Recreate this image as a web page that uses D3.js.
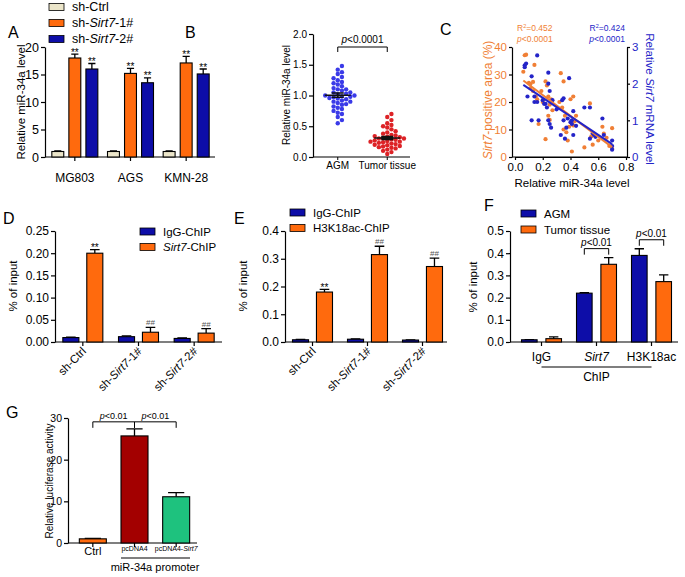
<!DOCTYPE html>
<html>
<head>
<meta charset="utf-8">
<script src="https://cdn.jsdelivr.net/npm/d3@7"></script>
<style>
body{margin:0;background:#fff}
svg{font-family:"Liberation Sans",Arial,sans-serif}
</style>
</head>
<body>
<script>
// ---- data ----
const aGroups = ['MG803','AGS','KMN-28']
const aSeries = ['sh-Ctrl','sh-Sirt7-1#','sh-Sirt7-2#']
const aValues = [[1.0,18.0,16.0],[1.0,15.2,13.5],[1.0,17.1,15.1]]
const aErrors = [[0.1,0.7,1.0],[0.1,0.9,0.9],[0.1,1.2,0.9]]
const aMarks = [['','**','**'],['','**','**'],['','**','**']]

const bGroups = ['AGM','Tumor tissue']
const bAGM = [1.48,1.42,1.38,1.35,1.3,1.28,1.25,1.22,1.2,1.18,1.15,1.12,1.1,1.1,1.08,1.05,1.05,1.03,1.02,1.0,1.0,0.99,0.98,0.97,0.96,0.95,0.94,0.92,0.9,0.9,0.88,0.86,0.85,0.82,0.8,0.78,0.75,0.72,0.7,0.65,0.6,0.55]
const bTumor = [0.7,0.65,0.6,0.55,0.52,0.5,0.48,0.45,0.42,0.4,0.38,0.36,0.35,0.34,0.33,0.32,0.31,0.3,0.3,0.29,0.28,0.27,0.26,0.25,0.25,0.24,0.23,0.22,0.21,0.2,0.19,0.18,0.17,0.16,0.15,0.14,0.12,0.1,0.08,0.05]

const cOrangeX = [0.07,0.08,0.06,0.1,0.11,0.13,0.14,0.11,0.13,0.15,0.16,0.17,0.19,0.2,0.22,0.23,0.24,0.25,0.24,0.25,0.22,0.26,0.27,0.33,0.35,0.32,0.34,0.36,0.35,0.37,0.38,0.4,0.42,0.41,0.39,0.42,0.44,0.43,0.5,0.54,0.55,0.56,0.63,0.64,0.6,0.66,0.7,0.68,0.7]
const cOrangeY = [37,37.2,31,27,26.5,27.3,33.5,25,24,22,21,12,24,20,27.5,26,22,19,15,13.5,6.5,21,17,30.5,27.5,20,18,15,10,9,6,21,22,2,11,11.5,15,13,3.5,19.5,7.5,4.5,11,8.5,6,7,10.5,4,3]
const cBlueX = [0.07,0.07,0.08,0.16,0.12,0.09,0.12,0.14,0.14,0.16,0.17,0.2,0.21,0.22,0.23,0.24,0.24,0.25,0.24,0.25,0.26,0.27,0.3,0.33,0.34,0.35,0.35,0.36,0.37,0.38,0.39,0.4,0.41,0.41,0.42,0.42,0.44,0.5,0.54,0.54,0.57,0.58,0.63,0.64,0.7,0.7,0.7,0.56]
const cBlueY = [2.5,2.45,2.55,2.77,2.2,1.65,1.0,1.65,1.5,1.5,1.0,1.55,1.45,1.45,1.35,2.3,2.0,1.8,1.0,0.9,0.8,1.55,1.3,0.6,1.55,1.6,1.0,0.5,0.8,1.05,2.15,0.95,1.0,0.9,1.25,0.6,0.85,1.35,1.35,0.5,0.6,0.55,1.05,0.6,0.3,0.2,0.45,0.65]

const dGroups = ['sh-Ctrl','sh-Sirt7-1#','sh-Sirt7-2#']
const dSeries = ['IgG-ChIP','Sirt7-ChIP']
const dValues = [[0.010,0.200],[0.012,0.022],[0.008,0.020]]
const dErrors = [[0.001,0.008],[0.002,0.011],[0.001,0.010]]
const dMarks = [['','**'],['','##'],['','##']]

const eGroups = ['sh-Ctrl','sh-Sirt7-1#','sh-Sirt7-2#']
const eSeries = ['IgG-ChIP','H3K18ac-ChIP']
const eValues = [[0.008,0.180],[0.010,0.315],[0.007,0.272]]
const eErrors = [[0.001,0.010],[0.001,0.030],[0.001,0.030]]
const eMarks = [['','**'],['','##'],['','##']]

const fGroups = ['IgG','Sirt7','H3K18ac']
const fSeries = ['AGM','Tumor tissue']
const fValues = [[0.010,0.015],[0.220,0.350],[0.390,0.272]]
const fErrors = [[0.001,0.008],[0.002,0.030],[0.030,0.030]]
const fCompare = [['Sirt7','p<0.01'],['H3K18ac','p<0.01']]

const gGroups = ['Ctrl','pcDNA4','pcDNA4-Sirt7']
const gValues = [[1.0],[25.7],[11.1]]
const gErrors = [[0.1],[1.7],[1.0]]
const gCompare = [['Ctrl','pcDNA4','p<0.01'],['pcDNA4','pcDNA4-Sirt7','p<0.01']]

// ---- setup ----
const svg = d3.select('body').append('svg').attr('width',685).attr('height',577)
const ORANGE = '#ff6a0d', BLUE = '#0d0da8', BEIGE = '#ebe5c9'

// italic for gene name and p
function rich(t, str){
  str.split(/(Sirt7|p(?=<))/).forEach(s => {
    if(!s) return
    const sp = t.append('tspan').text(s)
    if(s==='Sirt7' || s==='p') sp.attr('font-style','italic')
  })
  return t
}
function txt(x, y, str, size, opt = {}){
  const t = svg.append('text').attr('x',x).attr('y',y).attr('font-size',size)
    .attr('text-anchor',opt.anchor||'start').attr('fill',opt.fill||'#000')
  if(opt.rot) t.attr('transform',`rotate(${opt.rot},${x},${y})`)
  return rich(t, str)
}
function yAxis(scale, x, ticks, fmt, size, color){
  const ax = svg.append('g').attr('transform',`translate(${x},0)`)
    .call(d3.axisLeft(scale).tickValues(ticks).tickFormat(d3.format(fmt)).tickSize(4).tickSizeOuter(0).tickPadding(2))
  ax.attr('font-size',size).attr('font-family',null)
  ax.selectAll('path,line').attr('stroke','#000').attr('stroke-width',1.2)
  ax.selectAll('text').attr('fill',color||'#000')
  return ax
}
function legend(x, y, items, colors, dy, size){
  items.forEach((s,i) => {
    svg.append('rect').attr('x',x).attr('y',y+i*dy-6).attr('width',15).attr('height',7)
      .attr('fill',colors[i]).attr('stroke','#000').attr('stroke-width',0.8)
    txt(x+23, y+i*dy+1.5, s, size)
  })
}

function barPanel(o){
  const y = d3.scaleLinear().domain([0,o.max]).range([o.bottom,o.top])
  const x = d3.scalePoint().domain(o.groups).range(o.range).padding(0.5)
  const inner = d3.scaleBand().domain(o.series).range([-o.gw/2,o.gw/2]).paddingInner(o.pad)
  yAxis(y, o.axisX, d3.range(0,o.max+o.step/2,o.step), o.fmt, o.fs)
  svg.append('line').attr('x1',o.axisX).attr('x2',o.axisEnd).attr('y1',o.bottom).attr('y2',o.bottom)
    .attr('stroke','#000').attr('stroke-width',1.2)
  svg.selectAll(null).data(o.groups).enter().append('line')
    .attr('x1',d=>x(d)).attr('x2',d=>x(d)).attr('y1',o.bottom).attr('y2',o.bottom+4)
    .attr('stroke','#000').attr('stroke-width',1.2)
  const cells = o.groups.flatMap((g,i) => o.series.map((s,j) => ({
    g, s, v:o.values[i][j], e:o.errors[i][j], m:o.marks?o.marks[i][j]:'', c:o.color(i,j)})))
  const bx = d => x(d.g)+inner(d.s)
  const bw = inner.bandwidth()
  // error bars (upward)
  svg.selectAll(null).data(cells).enter().append('path')
    .attr('d',d => `M${bx(d)+bw/2},${y(d.v)}V${y(d.v+d.e)}M${bx(d)+bw*0.2},${y(d.v+d.e)}H${bx(d)+bw*0.8}`)
    .attr('stroke','#000').attr('stroke-width',1.3).attr('fill','none')
  svg.selectAll(null).data(cells).enter().append('rect')
    .attr('x',bx).attr('width',bw).attr('y',d=>y(d.v)).attr('height',d=>o.bottom-y(d.v))
    .attr('fill',d=>d.c).attr('stroke','#000').attr('stroke-width',1.1)
  svg.selectAll(null).data(cells.filter(d=>d.m)).enter().append('text')
    .attr('x',d=>bx(d)+bw/2).attr('y',d=>y(d.v+d.e)+(d.m==='##'?-2:1.5))
    .attr('text-anchor','middle').attr('font-size',d=>d.m==='##'?8:10)
    .attr('fill',d=>d.m==='##'?'#555':'#000').text(d=>d.m)
  return {x, y, inner, bw}
}

// ---- panel A ----
{
  const p = barPanel({groups:aGroups, series:aSeries, values:aValues, errors:aErrors, marks:aMarks,
    color:(i,j)=>[BEIGE,ORANGE,BLUE][j], max:20, step:5, fmt:'d', fs:12.5,
    top:47, bottom:157, axisX:45, axisEnd:215, range:[47,214], gw:46, pad:0.3})
  aGroups.forEach(g => txt(p.x(g), 182, g, 12, {anchor:'middle'}))
  txt(25, 102, 'Relative miR-34a level', 11.5, {anchor:'middle', rot:-90})
  legend(49, 9.5, aSeries, [BEIGE,ORANGE,BLUE], 16, 12.5)
  txt(8, 38, 'A', 16)
}

// ---- panel B ----
{
  const y = d3.scaleLinear().domain([0,2]).range([157,34])
  const x = d3.scalePoint().domain(bGroups).range([313,412]).padding(0.5)
  yAxis(y, 313, [0,0.5,1,1.5,2], '.1f', 10)
  svg.append('line').attr('x1',313).attr('x2',410).attr('y1',157).attr('y2',157).attr('stroke','#000').attr('stroke-width',1.2)
  bGroups.forEach(g => {
    svg.append('line').attr('x1',x(g)).attr('x2',x(g)).attr('y1',157).attr('y2',160).attr('stroke','#000')
    txt(x(g), 169, g, 10, {anchor:'middle'})
  })
  const r = 2.2
  function swarm(vals, cx){
    const placed = []
    vals.slice().sort((a,b)=>a-b).forEach(v => {
      const py = y(v)
      for(let k=0;k<60;k++){
        const off = k===0 ? 0 : (k%2 ? 1 : -1)*Math.ceil(k/2)*r*1.9
        if(placed.every(p => (p.x-cx-off)**2 + (p.y-py)**2 >= (2*r*0.95)**2)){ placed.push({x:cx+off, y:py}); break }
      }
    })
    return placed
  }
  ;[[bAGM,'#3a3ae8'],[bTumor,'#dd2226']].forEach(([vals,col],i) => {
    const cx = x(bGroups[i])
    svg.selectAll(null).data(swarm(vals,cx)).enter().append('circle')
      .attr('cx',d=>d.x).attr('cy',d=>d.y).attr('r',r).attr('fill',col)
    const m = d3.mean(vals), se = d3.deviation(vals)/Math.sqrt(vals.length)
    svg.append('path').attr('d',`M${cx-13},${y(m)}H${cx+13}M${cx},${y(m-se)}V${y(m+se)}M${cx-6},${y(m-se)}H${cx+6}M${cx-6},${y(m+se)}H${cx+6}`)
      .attr('stroke','#111').attr('stroke-width',1.5).attr('fill','none')
  })
  svg.append('path').attr('d',`M${x(bGroups[0])},52V47H${x(bGroups[1])}V52`).attr('stroke','#000').attr('fill','none')
  txt((x(bGroups[0])+x(bGroups[1]))/2, 43, 'p<0.0001', 10, {anchor:'middle'})
  txt(290, 95, 'Relative miR-34a level', 10, {anchor:'middle', rot:-90})
  txt(185, 38, 'B', 16)
}

// ---- panel C ----
{
  const CO = '#f07f35', CB = '#2424c8'
  const x = d3.scaleLinear().domain([0,0.8]).range([515,626])
  const yl = d3.scaleLinear().domain([0,40]).range([157,47])
  const yr = d3.scaleLinear().domain([0,3]).range([157,47])
  const la = yAxis(yl, 512, [0,10,20,30,40], 'd', 11.5, CO)
  la.call(g => g.selectAll('.tick line').attr('x2',-3)).call(g => g.selectAll('.tick text').attr('x',-5))
  const ra = svg.append('g').attr('transform','translate(627,0)')
    .call(d3.axisRight(yr).ticks(3).tickFormat(d3.format('d')).tickSize(3).tickSizeOuter(0).tickPadding(2))
  ra.attr('font-size',11.5).attr('font-family',null)
  ra.selectAll('path,line').attr('stroke','#000').attr('stroke-width',1.2)
  ra.selectAll('text').attr('fill',CB)
  const xa = svg.append('g').attr('transform','translate(0,157)')
    .call(d3.axisBottom(x).tickValues([0,0.2,0.4,0.6,0.8]).tickFormat(d3.format('.1f')).tickSize(3).tickSizeOuter(0).tickPadding(3))
  xa.attr('font-size',11.5).attr('font-family',null)
  xa.selectAll('path,line').attr('stroke','#000').attr('stroke-width',1.2)
  svg.append('line').attr('x1',512).attr('x2',627).attr('y1',157).attr('y2',157).attr('stroke','#000').attr('stroke-width',1.2)
  svg.selectAll(null).data(cOrangeX).enter().append('circle')
    .attr('cx',d=>x(d)).attr('cy',(d,i)=>yl(cOrangeY[i])).attr('r',2.1).attr('fill',CO)
  svg.selectAll(null).data(cBlueX).enter().append('circle')
    .attr('cx',d=>x(d)).attr('cy',(d,i)=>yr(cBlueY[i])).attr('r',2.1).attr('fill',CB)
  function fit(xs, ys){
    const mx = d3.mean(xs), my = d3.mean(ys)
    const b = d3.sum(xs,(v,i)=>(v-mx)*(ys[i]-my))/d3.sum(xs,v=>(v-mx)**2)
    return v => my + b*(v-mx)
  }
  const fo = fit(cOrangeX,cOrangeY), fb = fit(cBlueX,cBlueY)
  const [xmin,xmax] = d3.extent(cOrangeX.concat(cBlueX))
  svg.append('line').attr('x1',x(xmin)).attr('x2',x(xmax)).attr('y1',yl(fo(xmin))).attr('y2',yl(fo(xmax))).attr('stroke',CO).attr('stroke-width',2)
  svg.append('line').attr('x1',x(xmin)).attr('x2',x(xmax)).attr('y1',yr(fb(xmin))).attr('y2',yr(fb(xmax))).attr('stroke',CB).attr('stroke-width',2)
  const r1 = txt(517, 31, 'R', 8.5, {fill:CO}); r1.append('tspan').attr('font-size',5.5).attr('dy',-3.5).text('2'); r1.append('tspan').attr('dy',3.5).text('=0.452')
  txt(517, 42, 'p<0.0001', 8.5, {fill:CO})
  const r2 = txt(625, 31, 'R', 8.5, {fill:CB, anchor:'end'}); r2.append('tspan').attr('font-size',5.5).attr('dy',-3.5).text('2'); r2.append('tspan').attr('dy',3.5).text('=0.424')
  txt(625, 42, 'p<0.0001', 8.5, {fill:CB, anchor:'end'})
  txt(492, 100, 'Sirt7-positive area (%)', 12, {anchor:'middle', rot:-90, fill:CO})
  txt(646, 99, 'Relative Sirt7 mRNA level', 11.5, {anchor:'middle', rot:90, fill:CB})
  txt(572, 187, 'Relative miR-34a level', 11.5, {anchor:'middle'})
  txt(440, 35, 'C', 16)
}

// ---- panel D ----
function rotLabels(x, groups, bottom){
  svg.selectAll(null).data(groups).enter().append('text')
    .attr('transform',d=>`translate(${x(d)+4},${bottom+10}) rotate(-45)`)
    .attr('text-anchor','end').attr('font-size',11.5)
    .each(function(d){ rich(d3.select(this), d) })
}
{
  const p = barPanel({groups:dGroups, series:dSeries, values:dValues, errors:dErrors, marks:dMarks,
    color:(i,j)=>[BLUE,ORANGE][j], max:0.25, step:0.05, fmt:'.2f', fs:12,
    top:231, bottom:342, axisX:55, axisEnd:222, range:[55,222], gw:40, pad:0.33})
  rotLabels(p.x, dGroups, 342)
  txt(17, 286, '% of input', 11.5, {anchor:'middle', rot:-90})
  legend(140, 234, dSeries, [BLUE,ORANGE], 15.5, 11.5)
  txt(3, 224, 'D', 16)
}

// ---- panel E ----
{
  const p = barPanel({groups:eGroups, series:eSeries, values:eValues, errors:eErrors, marks:eMarks,
    color:(i,j)=>[BLUE,ORANGE][j], max:0.4, step:0.1, fmt:'.1f', fs:12,
    top:231, bottom:342, axisX:285, axisEnd:447, range:[285,450], gw:40, pad:0.33})
  rotLabels(p.x, eGroups, 342)
  txt(247, 286, '% of input', 11.5, {anchor:'middle', rot:-90})
  legend(290, 215, eSeries, [BLUE,ORANGE], 15.5, 11.5)
  txt(234, 224, 'E', 16)
}

// ---- panel F ----
{
  const p = barPanel({groups:fGroups, series:fSeries, values:fValues, errors:fErrors,
    color:(i,j)=>[BLUE,ORANGE][j], max:0.5, step:0.1, fmt:'.1f', fs:12,
    top:231, bottom:342, axisX:510, axisEnd:678, range:[514,679], gw:40, pad:0.36})
  fGroups.forEach(g => txt(p.x(g), 361, g, 12, {anchor:'middle'}))
  svg.append('line').attr('x1',p.x(fGroups[0])).attr('x2',p.x(fGroups[2])).attr('y1',367).attr('y2',367).attr('stroke','#000').attr('stroke-width',1.2)
  txt(p.x(fGroups[1]), 381, 'ChIP', 12, {anchor:'middle'})
  fCompare.forEach(([g,lab]) => {
    const i = fGroups.indexOf(g)
    const top = d3.max(fValues[i].map((v,j)=>v+fErrors[i][j]))
    const by = p.y(top)-9
    const x1 = p.x(g)+p.inner(fSeries[0])+p.bw/2, x2 = p.x(g)+p.inner(fSeries[1])+p.bw/2
    svg.append('path').attr('d',`M${x1},${by+6}V${by}H${x2}V${by+6}`).attr('stroke','#000').attr('fill','none')
    txt((x1+x2)/2, by-3, lab, 10, {anchor:'middle'})
  })
  txt(477, 287, '% of input', 11.5, {anchor:'middle', rot:-90})
  legend(521, 216, fSeries, [BLUE,ORANGE], 16, 11.5)
  txt(484, 211, 'F', 16)
}

// ---- panel G ----
{
  const gColors = [ORANGE,'#a30000','#1ec27e']
  const p = barPanel({groups:gGroups, series:['v'], values:gValues, errors:gErrors,
    color:(i,j)=>gColors[i], max:30, step:10, fmt:'d', fs:10.5,
    top:418, bottom:543, axisX:68, axisEnd:197, range:[72,197], gw:27, pad:0})
  gGroups.forEach(g => txt(p.x(g), g==='Ctrl'?555:551, g, g==='Ctrl'?11:7, {anchor:'middle'}))
  svg.append('line').attr('x1',121).attr('x2',190).attr('y1',558).attr('y2',558).attr('stroke','#000').attr('stroke-width',1.2)
  txt(155, 571, 'miR-34a promoter', 11, {anchor:'middle'})
  const top = d3.max(gValues.map((v,i)=>v[0]+gErrors[i][0]))
  const by = p.y(top)-7
  gCompare.forEach(([a,b,lab]) => {
    svg.append('path').attr('d',`M${p.x(a)},${by+6}V${by}H${p.x(b)}V${by+6}`).attr('stroke','#000').attr('fill','none')
    txt((p.x(a)+p.x(b))/2, by-3, lab, 9, {anchor:'middle'})
  })
  txt(53, 481, 'Relative luciferase activity', 10, {anchor:'middle', rot:-90})
  txt(6, 418, 'G', 16)
}
</script>
</body>
</html>
